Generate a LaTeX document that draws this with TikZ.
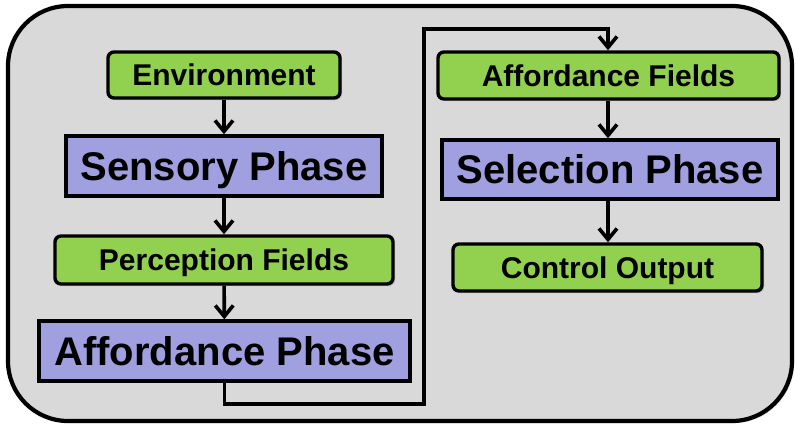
\documentclass[tikz,border=0pt]{standalone}
\usepackage{fontspec}
\setmainfont{Liberation Sans}
\usetikzlibrary{arrows.meta,shadows}

\definecolor{fieldgreen}{HTML}{92D050}
\definecolor{phasepurple}{HTML}{A0A0E0}
\definecolor{framegray}{HTML}{D9D9D9}

\begin{document}
\begin{tikzpicture}[x=1pt,y=-1pt,
    field/.style={rectangle,rounded corners=6pt,draw=black,line width=3.4pt,fill=fieldgreen,
      inner sep=0pt,text height=21.5pt,text depth=0pt,font=\fontsize{30}{36}\selectfont\bfseries,
      drop shadow={shadow xshift=2pt,shadow yshift=-2pt,opacity=0.35}},
    phase/.style={rectangle,draw=black,line width=3.4pt,fill=phasepurple,
      inner sep=0pt,text height=28.6pt,text depth=0pt,font=\fontsize{40}{48}\selectfont\bfseries,
      drop shadow={shadow xshift=2pt,shadow yshift=-2pt,opacity=0.35}},
    flow/.style={draw=black,line width=3.6pt,-{Straight Barb[length=11pt,width=18pt]}}]
    \useasboundingbox (0,0) rectangle (795,428);
    % frame
    \draw[line width=4.2pt,rounded corners=60pt,fill=framegray,
      drop shadow={shadow xshift=2pt,shadow yshift=-2pt,opacity=0.3}] (8,6) rectangle (792,421);
    % left column
    \node (env)   at (224,75)    [field,minimum width=232pt,minimum height=46pt] {Environment};
    \node (sph)   at (224,166)   [phase,minimum width=316pt,minimum height=60pt] {Sensory Phase};
    \node (pfld)  at (224,260)   [field,minimum width=338pt,minimum height=48pt] {Perception Fields};
    \node (aph)   at (224.5,351) [phase,minimum width=371pt,minimum height=60pt] {Affordance Phase};
    % right column
    \node (afld)  at (608.5,75.5)  [field,minimum width=341pt,minimum height=47pt] {Affordance Fields};
    \node (selph) at (610,169.5)   [phase,minimum width=336pt,minimum height=59pt] {Selection Phase};
    \node (ctrl)  at (607.5,267.5) [field,minimum width=309pt,minimum height=47pt] {Control Output};
    \coordinate (turn) at (424,29);
    % connectors
    \draw[flow] (env) -- (sph);
    \draw[flow] (sph) -- (pfld);
    \draw[flow] (pfld) -- (aph);
    \draw[flow] (aph.south) -- ++(0,21) -| (turn) -| (afld.north -| 608,0);
    \draw[flow] (afld.south -| 608,0) -- (selph.north -| 608,0);
    \draw[flow] (selph.south -| 608,0) -- (ctrl.north -| 608,0);
\end{tikzpicture}
\end{document}
